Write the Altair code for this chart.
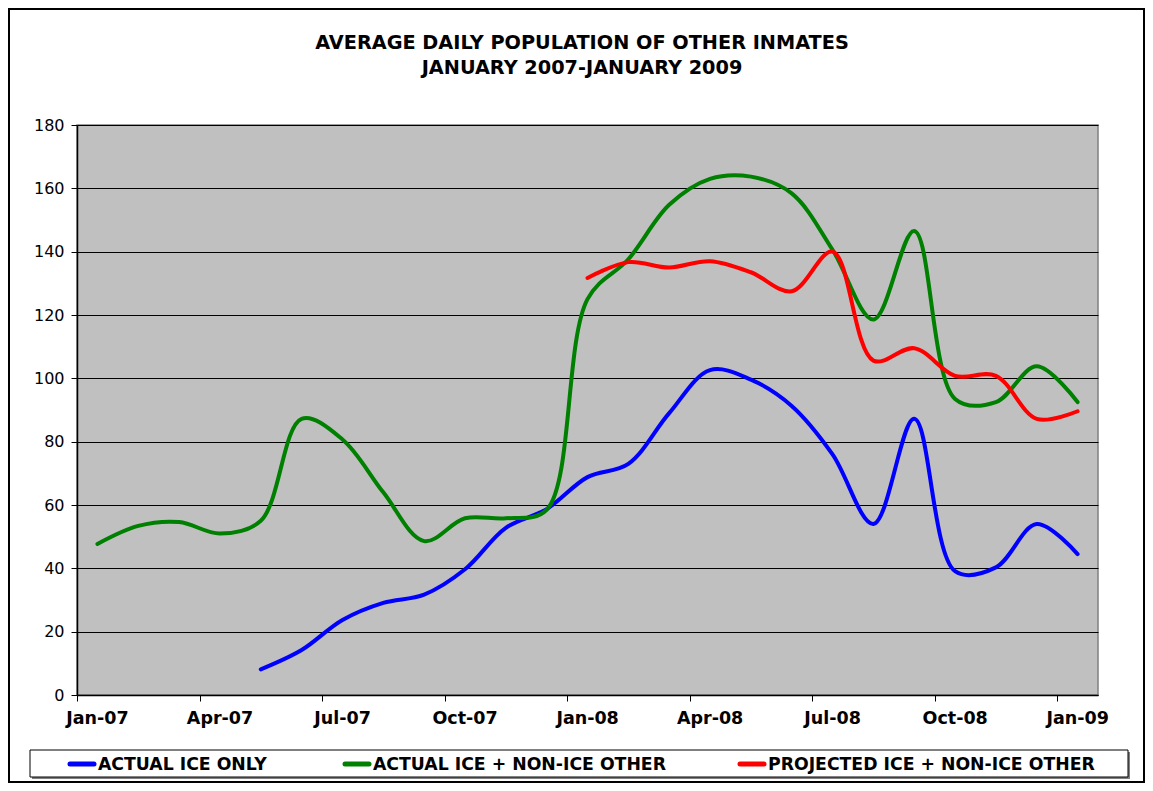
import json
import altair as alt
import pandas as pd

months = ["Jan-07", "Feb-07", "Mar-07", "Apr-07", "May-07", "Jun-07", "Jul-07",
          "Aug-07", "Sep-07", "Oct-07", "Nov-07", "Dec-07", "Jan-08", "Feb-08",
          "Mar-08", "Apr-08", "May-08", "Jun-08", "Jul-08", "Aug-08", "Sep-08",
          "Oct-08", "Nov-08", "Dec-08", "Jan-09"]

title_lines = ["AVERAGE DAILY POPULATION OF OTHER INMATES", "JANUARY 2007-JANUARY 2009"]
series_names = ["ACTUAL ICE ONLY", "ACTUAL ICE + NON-ICE OTHER", "PROJECTED ICE + NON-ICE OTHER"]
series_colors = ["#0000FF", "#008000", "#FF0000"]

ice_only = [None, None, None, None,
            8.1, 14.2, 23.7, 29.1, 31.7, 39.7, 52.8, 58.7,
            68.8, 73.0, 89.0, 102.6, 99.6, 91.3, 76.0, 54.0, 87.2, 39.1, 40.3, 54.0, 44.5]
ice_plus_other = [47.7, 53.4, 54.6, 51.0, 55.0, 87.2, 80.7, 64.0, 48.6, 55.8, 55.8, 58.5,
                  125.0, 137.6, 154.8, 163.0, 163.7, 158.4, 140.6, 118.6, 146.5, 93.5, 92.5, 103.8, 92.5]
projected = [None] * 12 + [131.7, 136.7, 135.0, 137.0, 133.5, 127.5, 140.0, 105.6,
                           109.5, 100.8, 100.8, 87.2, 89.6]

y_ticks = [0, 20, 40, 60, 80, 100, 120, 140, 160, 180]
x_tick_idx = [0, 3, 6, 9, 12, 15, 18, 21, 24]

rows = []
for name, vals in zip(series_names, [ice_only, ice_plus_other, projected]):
    for i, v in enumerate(vals):
        if v is not None:
            rows.append({"series": name, "x": i + 0.5, "value": v})
df = pd.DataFrame(rows)

FONT = "DejaVu Sans"
W, H = 1021, 570

label_expr = json.dumps(months).replace('"', "'") + "[datum.value]"

lines = alt.Chart(df).mark_line(interpolate="catmull-rom", strokeWidth=4, strokeCap="round",
                                strokeJoin="round").encode(
    x=alt.X("x:Q", scale=alt.Scale(domain=[0, 25], nice=False, zero=False),
            axis=alt.Axis(values=x_tick_idx, labelExpr=label_expr, labelOffset=20,
                          grid=False, title=None, tickSize=6, tickColor="black",
                          domainColor="black", domainWidth=1.5, labelFont=FONT,
                          labelFontSize=17.5, labelFontWeight="bold", labelColor="black",
                          labelPadding=8, labelOverlap=False, labelFlush=False)),
    y=alt.Y("value:Q", scale=alt.Scale(domain=[0, 180], nice=False),
            axis=alt.Axis(values=y_ticks, title=None, grid=True, gridColor="black",
                          gridWidth=1, tickSize=6, tickColor="black", domainColor="black",
                          domainWidth=1.5, labelFont=FONT, labelFontSize=16,
                          labelColor="black", labelPadding=7)),
    color=alt.Color("series:N", scale=alt.Scale(domain=series_names, range=series_colors),
                    legend=None),
    detail="series:N",
)

one = alt.Data(values=[{}])

# outer frame
frame = alt.Chart(one).mark_rect(fill=None, stroke="black", strokeWidth=2).encode(
    x=alt.value(-68), x2=alt.value(1067), y=alt.value(-116), y2=alt.value(657))

# title (two lines)
title_layers = [
    alt.Chart(one).mark_text(text=t, align="center", baseline="middle", font=FONT,
                             fontSize=19.3, fontWeight="bold", color="black").encode(
        x=alt.value(505), y=alt.value(yy))
    for t, yy in zip(title_lines, [-82, -57])
]

# legend box
legend_shadow = alt.Chart(one).mark_rect(fill="#808080").encode(
    x=alt.value(-45), x2=alt.value(1053), y=alt.value(627), y2=alt.value(654))
legend_box = alt.Chart(one).mark_rect(fill="white", stroke="black", strokeWidth=1).encode(
    x=alt.value(-47), x2=alt.value(1051), y=alt.value(625), y2=alt.value(652))

legend_layers = []
line_starts = [-7, 268, 663]
for name, col, x0 in zip(series_names, series_colors, line_starts):
    legend_layers.append(
        alt.Chart(one).mark_rule(stroke=col, strokeWidth=5, strokeCap="round").encode(
            x=alt.value(x0), x2=alt.value(x0 + 24), y=alt.value(639)))
    legend_layers.append(
        alt.Chart(one).mark_text(text=name, align="left", baseline="middle", font=FONT,
                                 fontSize=17.3, fontWeight="bold", color="black").encode(
            x=alt.value(x0 + 28), y=alt.value(640)))

chart = alt.layer(frame, *title_layers, lines, legend_shadow, legend_box,
                  *legend_layers).properties(
    width=W, height=H,
    padding={"left": 69, "top": 117, "right": 47, "bottom": 88},
    autosize=alt.AutoSizeParams(type="none"),
).configure(background="white").configure_view(fill="#C0C0C0", stroke="#808080",
                                               strokeWidth=1.5)

chart.save("out.html", embed_options={"renderer": "svg", "actions": False})
